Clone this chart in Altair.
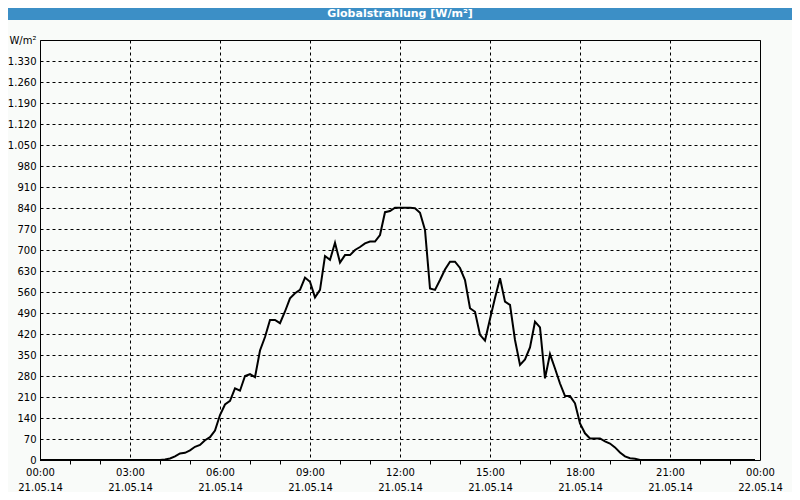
import altair as alt
import pandas as pd

title_text = "Globalstrahlung [W/m²]"
unit_text = "W/m²"

times = [
    "00:00", "04:00", "04:10", "04:20", "04:30", "04:40", "04:50", "05:00", "05:10", "05:20",
    "05:30", "05:40", "05:50", "06:00", "06:10", "06:20", "06:30", "06:40", "06:50", "07:00",
    "07:10", "07:20", "07:30", "07:40", "07:50", "08:00", "08:10", "08:20", "08:30", "08:40",
    "08:50", "09:00", "09:10", "09:20", "09:30", "09:40", "09:50", "10:00", "10:10", "10:20",
    "10:30", "10:40", "10:50", "11:00", "11:10", "11:20", "11:30", "11:40", "11:50", "12:00",
    "12:10", "12:20", "12:30", "12:40", "12:50", "13:00", "13:10", "13:20", "13:30", "13:40",
    "13:50", "14:00", "14:10", "14:20", "14:30", "14:40", "14:50", "15:00", "15:10", "15:20",
    "15:30", "15:40", "15:50", "16:00", "16:10", "16:20", "16:30", "16:40", "16:50", "17:00",
    "17:10", "17:20", "17:30", "17:40", "17:50", "18:00", "18:10", "18:20", "18:30", "18:40",
    "18:50", "19:00", "19:10", "19:20", "19:30", "19:40", "19:50", "20:00", "23:50",
]
values = [
    0, 0, 2, 5, 12, 22, 24, 32, 44, 50,
    66, 76, 98, 150, 185, 197, 239, 231, 280, 286,
    276, 365, 410, 467, 467, 456, 495, 539, 556, 567,
    608, 594, 542, 567, 680, 667, 724, 658, 683, 683,
    700, 710, 722, 728, 728, 750, 826, 830, 841, 841,
    841, 841, 839, 824, 767, 572, 567, 600, 635, 661,
    661, 640, 600, 506, 494, 417, 398, 470, 540, 606,
    528, 517, 400, 317, 335, 375, 461, 442, 272, 353,
    305, 255, 213, 213, 189, 122, 89, 72, 72, 72,
    62, 55, 42, 25, 12, 6, 4, 0, 0,
]

x_ticks = list(range(0, 25))
y_ticks = list(range(0, 1331, 70))

hours = [int(t[:2]) + int(t[3:]) / 60 for t in times]
df = pd.DataFrame({"h": hours, "v": values})

FONT = "DejaVu Sans"
BLUE = "#3c8fc6"

x_axis = alt.Axis(
    values=x_ticks,
    title=None,
    labelExpr=(
        "datum.value % 3 === 0 ? [((datum.value % 24) < 10 ? '0' : '') + (datum.value % 24) + ':00', "
        "datum.value === 24 ? '22.05.14' : '21.05.14'] : ''"
    ),
    labelOverlap=False,
    labelFlush=False,
    labelBound=False,
    labelFont=FONT,
    labelFontSize=10,
    labelColor="black",
    labelPadding=3,
    labelLineHeight=15,
    domain=False,
    ticks=True,
    tickSize=4,
    tickColor="black",
    tickOpacity={"condition": {"test": "datum.value % 3 === 0", "value": 0}, "value": 1},
    grid=True,
    gridColor="black",
    gridDash=[3, 3],
    gridWidth=1,
    gridOpacity={"condition": {"test": "datum.value % 3 === 0", "value": 1}, "value": 0},
)

y_axis = alt.Axis(
    values=y_ticks,
    title=unit_text,
    titleAngle=0,
    titleX=-4,
    titleY=0,
    titleAlign="right",
    titleBaseline="middle",
    titleFont=FONT,
    titleFontSize=10,
    titleFontWeight="normal",
    titleColor="black",
    labelExpr="replace(format(datum.value, ','), ',', '.')",
    labelOverlap=False,
    labelFlush=False,
    labelFont=FONT,
    labelFontSize=10,
    labelColor="black",
    labelPadding=4,
    domain=False,
    ticks=False,
    grid=True,
    gridColor="black",
    gridDash=[3, 3],
    gridWidth=1,
    gridOpacity=1,
)

line = alt.Chart(df).mark_line(color="black", strokeWidth=2).encode(
    x=alt.X("h:Q", scale=alt.Scale(domain=[0, 24], nice=False, zero=False), axis=x_axis),
    y=alt.Y("v:Q", scale=alt.Scale(domain=[0, 1400], nice=False), axis=y_axis),
)

title_df = pd.DataFrame({"t": [title_text]})
bar = alt.Chart(title_df).mark_rect(color=BLUE).encode(
    x=alt.value(-32), x2=alt.value(752), y=alt.value(-32), y2=alt.value(-20)
)
title = alt.Chart(title_df).mark_text(
    color="white", font=FONT, fontSize=11, fontWeight="bold", align="center", baseline="middle"
).encode(x=alt.value(360), y=alt.value(-26), text="t:N")

chart = alt.layer(bar, title, line).properties(
    width=720,
    height=420,
    background="#f9fbf9",
    padding={"left": 32, "top": 32, "right": 32, "bottom": 32},
    autosize=alt.AutoSizeParams(type="none"),
).configure_view(stroke="black", strokeWidth=1)

chart.save("out.html", embed_options={"renderer": "svg", "actions": False})
